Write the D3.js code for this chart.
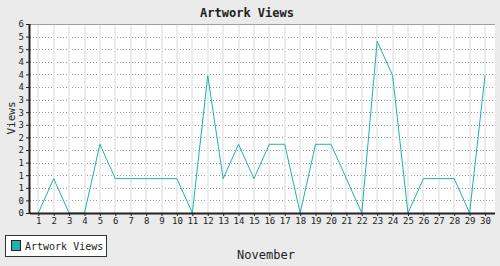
<!DOCTYPE html>
<html>
<head>
<meta charset="utf-8">
<script src="https://cdnjs.cloudflare.com/ajax/libs/d3/7.8.5/d3.min.js"></script>
<style>
  body { margin: 0; background: #ebebeb; }
  text { font-family: 'DejaVu Sans Mono', monospace; fill: #222; }
</style>
</head>
<body>
<div class="mainContainer"></div>
<script>
// days of November and the views per day
const days = d3.range(1, 31).map(String);
const views = [0,1,0,0,2,1,1,1,1,1,0,4,1,2,1,2,2,0,2,2,1,0,5,4,0,1,1,1,0,4];
const yLabels = ['0','0','1','1','1','2','2','3','3','3','4','4','4','5','5','6'];
const yMax = 5.5;

const container = d3.select('.mainContainer')
    .append('svg')
    .attr('width', 500)
    .attr('height', 266);

container.append('rect')
    .attr('width', 500)
    .attr('height', 266)
    .attr('fill', '#ebebeb');

const pLeft = 30, pTop = 24, pRight = 495, pBottom = 213;

const x = d3.scalePoint()
    .domain(days)
    .range([38.3, 485]);

const y = d3.scaleLinear()
    .domain([0, yMax])
    .range([pBottom, pTop]);

const yTicks = yLabels.map((d, i) => i * yMax / (yLabels.length - 1));

// plot background
container.append('rect')
    .attr('x', pLeft)
    .attr('y', pTop)
    .attr('width', pRight - pLeft)
    .attr('height', pBottom - pTop)
    .attr('fill', '#fff');

// horizontal dotted grid
container.append('g')
    .selectAll('line')
    .data(yTicks.slice(1))
    .enter()
    .append('line')
    .attr('x1', pLeft)
    .attr('x2', pRight)
    .attr('y1', d => Math.round(y(d)) + 0.5)
    .attr('y2', d => Math.round(y(d)) + 0.5)
    .attr('stroke', '#999')
    .attr('stroke-dasharray', '1,2');

// vertical grid
container.append('g')
    .selectAll('line')
    .data(days)
    .enter()
    .append('line')
    .attr('x1', d => Math.round(x(d)))
    .attr('x2', d => Math.round(x(d)))
    .attr('y1', pTop)
    .attr('y2', pBottom)
    .attr('stroke', '#ececec')
    .attr('stroke-width', 2);

// top border
container.append('line')
    .attr('x1', pLeft).attr('x2', pRight)
    .attr('y1', pTop + 0.5).attr('y2', pTop + 0.5)
    .attr('stroke', '#a0a0a0');

// the line
const line = d3.line()
    .x((d, i) => x(days[i]))
    .y(d => y(d));

container.append('path')
    .datum(views)
    .attr('d', line)
    .attr('fill', 'none')
    .attr('stroke', '#20b2aa')
    .attr('stroke-width', 1);

// axes
const xAxis = d3.axisBottom(x).tickSize(3).tickPadding(2);
const yAxis = d3.axisLeft(y)
    .tickValues(yTicks)
    .tickFormat((d, i) => yLabels[i])
    .tickSize(4)
    .tickPadding(2);

const xAxisGroup = container.append('g')
    .attr('transform', `translate(0,${pBottom})`)
    .call(xAxis);
xAxisGroup.select('.domain')
    .attr('d', `M${pLeft},0.5H${pRight}`);

const yAxisGroup = container.append('g')
    .attr('transform', `translate(${pLeft},0)`)
    .call(yAxis);
yAxisGroup.select('.domain')
    .attr('d', `M-0.5,${pTop}V${pBottom}`);

container.selectAll('.domain')
    .attr('stroke', '#222')
    .attr('stroke-width', 2);
container.selectAll('.tick line').attr('stroke', '#222');
container.selectAll('.tick text')
    .attr('font-family', 'DejaVu Sans Mono')
    .attr('font-size', 9)
    .attr('fill', '#222');

// titles
container.append('text')
    .attr('x', 247)
    .attr('y', 17)
    .attr('text-anchor', 'middle')
    .attr('font-size', 12)
    .attr('font-weight', 'bold')
    .text('Artwork Views');

container.append('text')
    .attr('x', 266)
    .attr('y', 259)
    .attr('text-anchor', 'middle')
    .attr('font-size', 12)
    .text('November');

container.append('text')
    .attr('transform', 'translate(15,118) rotate(-90)')
    .attr('text-anchor', 'middle')
    .attr('font-size', 11)
    .text('Views');

// legend
const legend = container.append('g');
legend.append('rect')
    .attr('x', 5.5).attr('y', 235.5)
    .attr('width', 101).attr('height', 21)
    .attr('fill', '#fff')
    .attr('stroke', '#333');
legend.append('rect')
    .attr('x', 11.5).attr('y', 240.5)
    .attr('width', 9).attr('height', 10)
    .attr('fill', '#20b2aa')
    .attr('stroke', '#222');
legend.append('text')
    .attr('x', 25)
    .attr('y', 250)
    .attr('font-size', 10)
    .text('Artwork Views');
</script>
</body>
</html>
